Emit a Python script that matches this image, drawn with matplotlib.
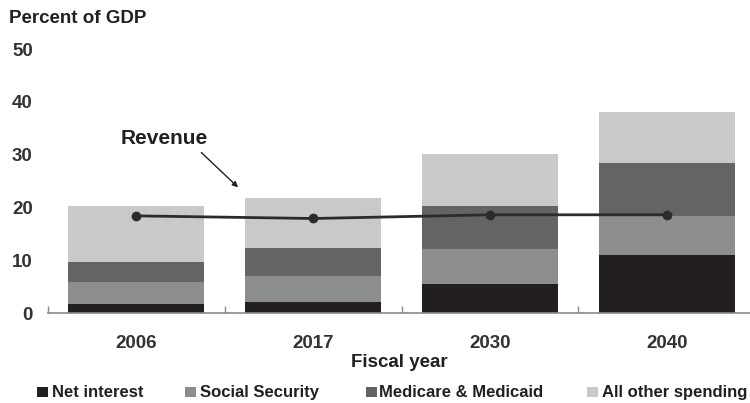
import numpy as np
import matplotlib
matplotlib.use("Agg")
import matplotlib.pyplot as plt
from matplotlib.patches import Rectangle

years = ["2006", "2017", "2030", "2040"]
net_interest = [1.7, 2.1, 5.4, 10.9]
social_security = [4.2, 5.0, 6.7, 7.5]
medicare_medicaid = [3.8, 5.3, 8.2, 10.1]
other_spending = [10.6, 9.4, 9.8, 9.5]
revenue = [18.4, 17.9, 18.6, 18.6]

series_names = ["Net interest", "Social Security", "Medicare & Medicaid",
                "All other spending"]
colors = ["#231f20", "#8c8d8f", "#636466", "#c8c9cb"]

W, H = 750, 403

plt.rcParams["font.family"] = ["Liberation Sans", "DejaVu Sans"]
plt.rcParams["font.weight"] = "bold"

fig = plt.figure(figsize=(W / 100, H / 100), dpi=100)
ax = fig.add_axes([0.064, 0.2233, 0.936, 0.6551])

x = np.arange(len(years))
bottom = np.zeros(len(years))
for vals, col in zip([net_interest, social_security, medicare_medicaid,
                      other_spending], colors):
    ax.bar(x, vals, width=0.77, bottom=bottom, color=col, edgecolor="none",
           zorder=2)
    bottom += np.array(vals)

ax.plot(x, revenue, color="#2b2b2b", lw=2, marker="o", markersize=6,
        zorder=3)

# label and arrow for the revenue line
ax.text(0.16, 33.0, "Revenue", ha="center", va="center", fontsize=15,
        fontweight="bold", color="#231f20")
ax.annotate("", xy=(0.575, 23.8), xytext=(0.367, 30.4),
            arrowprops=dict(arrowstyle="-|>", color="#231f20", lw=1,
                            shrinkA=0, shrinkB=0, mutation_scale=8))

ax.set_xlim(-0.5, 3.47)
ax.set_ylim(0, 50)

for s in ["top", "right", "left"]:
    ax.spines[s].set_visible(False)
ax.spines["bottom"].set_color("#8a8a8a")
ax.spines["bottom"].set_linewidth(1.2)

ax.set_xticks(x)
ax.set_xticklabels(years)
ax.set_xticks([-0.5, 0.5, 1.5, 2.5], minor=True)
ax.tick_params(axis="x", which="major", length=0, pad=16, labelsize=13.5,
               labelcolor="#333333")
ax.tick_params(axis="x", which="minor", direction="in", length=5,
               width=1, color="#8a8a8a")
ax.set_yticks([0, 10, 20, 30, 40, 50])
ax.tick_params(axis="y", length=0, pad=11, labelsize=13.5,
               labelcolor="#333333")

ax.set_xlabel("Fiscal year", fontsize=13.5, fontweight="bold",
              color="#231f20", labelpad=1)

fig.text(0.012, 0.953, "Percent of GDP", fontsize=13.5, fontweight="bold",
         color="#231f20", ha="left", va="center")

# legend row, laid out by hand to match the original spacing
square_x = [37, 185, 366, 587]
label_x = [52, 200, 379, 602]
baseline = 397
for sx, lx, name, col in zip(square_x, label_x, series_names, colors):
    fig.patches.append(Rectangle((sx / W, (H - baseline) / H), 11 / W,
                                 10 / H, facecolor=col, edgecolor="none",
                                 transform=fig.transFigure, figure=fig))
    fig.text(lx / W, (H - baseline) / H, name, fontsize=12,
             fontweight="bold", color="#231f20", ha="left", va="baseline")

fig.savefig("out.png", dpi=100)
